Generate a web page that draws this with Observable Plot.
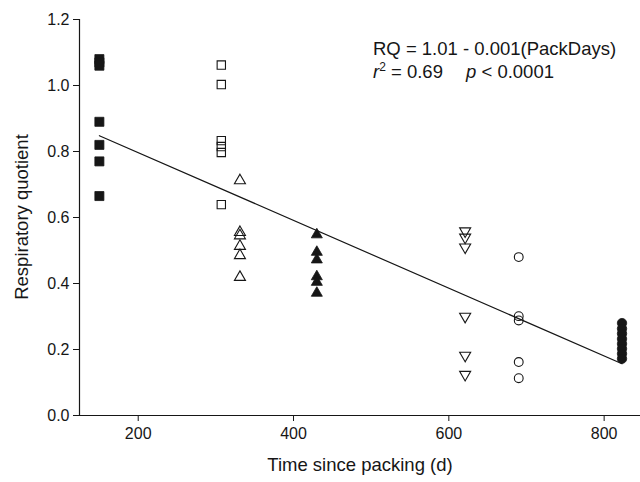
<!DOCTYPE html>
<html><head><meta charset="utf-8">
<script src="https://cdn.jsdelivr.net/npm/d3@7"></script>
<script src="https://cdn.jsdelivr.net/npm/@observablehq/plot@0.6"></script>
<style>body{margin:0;background:#fff} svg{display:block}</style>
</head><body><div id="chart"></div>
<script>
// ---- data ----
const packDays = [150, 307, 331, 430, 621, 690, 823];
const rq150 = [1.08, 1.07, 1.06, 0.89, 0.82, 0.77, 0.665];
const rq307 = [1.062, 1.003, 0.833, 0.815, 0.797, 0.639];
const rq331 = [0.712, 0.555, 0.545, 0.513, 0.485, 0.419];
const rq430 = [0.548, 0.495, 0.472, 0.421, 0.404, 0.371];
const rq621 = [0.559, 0.540, 0.510, 0.300, 0.182, 0.124];
const rq690 = [0.480, 0.301, 0.288, 0.162, 0.113];
const rq823 = [0.280, 0.263, 0.248, 0.232, 0.217, 0.202, 0.187, 0.172];
const rqByGroup = [rq150, rq307, rq331, rq430, rq621, rq690, rq823];
const xTicks = [200, 400, 600, 800];
const yTicks = [0, 0.2, 0.4, 0.6, 0.8, 1.0, 1.2];
const xDomain = [124.4, 846.8];
const yDomain = [0, 1.2];
const fitIntercept = 1.002;
const fitSlope = -0.001027;
const xLabel = "Time since packing (d)";
const yLabel = "Respiratory quotient";
const eqLine1 = "RQ = 1.01 - 0.001(PackDays)";
const eqR2 = "0.69";
const eqP = "0.0001";

// ---- styles (kept separate from data) ----
const ink = "#161616";
const styles = [
  {symbol: "square", filled: true, r: 5.1, rotate: 0},
  {symbol: "square", filled: false, r: 4.7, rotate: 0},
  {symbol: "triangle", filled: false, r: 4.1, rotate: 0},
  {symbol: "triangle", filled: true, r: 4.1, rotate: 0},
  {symbol: "triangle", filled: false, r: 4.1, rotate: 180},
  {symbol: "circle", filled: false, r: 4.4, rotate: 0},
  {symbol: "circle", filled: true, r: 4.7, rotate: 0}
];

const groups = packDays.map((d, i) => rqByGroup[i].map(v => ({days: d, rq: v})));
const fitXs = [d3.min(packDays), d3.max(packDays)];
const fitLine = fitXs.map(x => ({days: x, rq: fitIntercept + fitSlope * x}));

const dotMarks = groups.map((data, i) => {
  const s = styles[i];
  return Plot.dot(data, {
    x: "days", y: "rq", symbol: s.symbol, r: s.r, rotate: s.rotate,
    fill: s.filled ? ink : "none",
    stroke: ink, strokeWidth: s.filled ? 0.8 : 1.1
  });
});

const font = "'Liberation Sans', Arial, sans-serif";
const plot = Plot.plot({
  width: 640, height: 482,
  marginLeft: 79, marginRight: 0, marginTop: 19, marginBottom: 67,
  style: {fontFamily: font, fontSize: "16px", color: ink, background: "white"},
  x: {domain: xDomain, ticks: xTicks, tickSize: 6, tickPadding: 6, label: null},
  y: {domain: yDomain, ticks: yTicks, tickFormat: d3.format(".1f"), tickSize: 6, tickPadding: 4, label: null},
  marks: [
    Plot.ruleX([xDomain[0]], {stroke: ink, strokeWidth: 1.2}),
    Plot.ruleY([yDomain[0]], {stroke: ink, strokeWidth: 1.2}),
    Plot.line(fitLine, {x: "days", y: "rq", stroke: ink, strokeWidth: 1.2}),
    ...dotMarks
  ]
});

const svg = d3.select(plot);
svg.append("text")
  .attr("x", 360).attr("y", 471)
  .attr("text-anchor", "middle")
  .attr("font-size", 18.5).attr("font-family", font).attr("fill", ink)
  .text(xLabel);
svg.append("text")
  .attr("transform", "translate(28,217) rotate(-90)")
  .attr("text-anchor", "middle")
  .attr("font-size", 18.5).attr("font-family", font).attr("fill", ink)
  .text(yLabel);
svg.append("text")
  .attr("x", 373).attr("y", 55)
  .attr("text-anchor", "start")
  .attr("font-size", 18.5).attr("font-family", font).attr("fill", ink)
  .text(eqLine1);
const t2 = svg.append("text")
  .attr("x", 373).attr("y", 78)
  .attr("text-anchor", "start")
  .attr("font-size", 18.5).attr("font-family", font).attr("fill", ink);
t2.append("tspan").attr("font-style", "italic").text("r");
t2.append("tspan").attr("font-size", 12).attr("dy", -7).text("2");
t2.append("tspan").attr("dy", 7).text(" = " + eqR2);
const t3 = svg.append("text")
  .attr("x", 466).attr("y", 78)
  .attr("text-anchor", "start")
  .attr("font-size", 18.5).attr("font-family", font).attr("fill", ink);
t3.append("tspan").attr("font-style", "italic").text("p");
t3.append("tspan").text(" < " + eqP);

document.getElementById("chart").appendChild(plot);
</script>
</body></html>
